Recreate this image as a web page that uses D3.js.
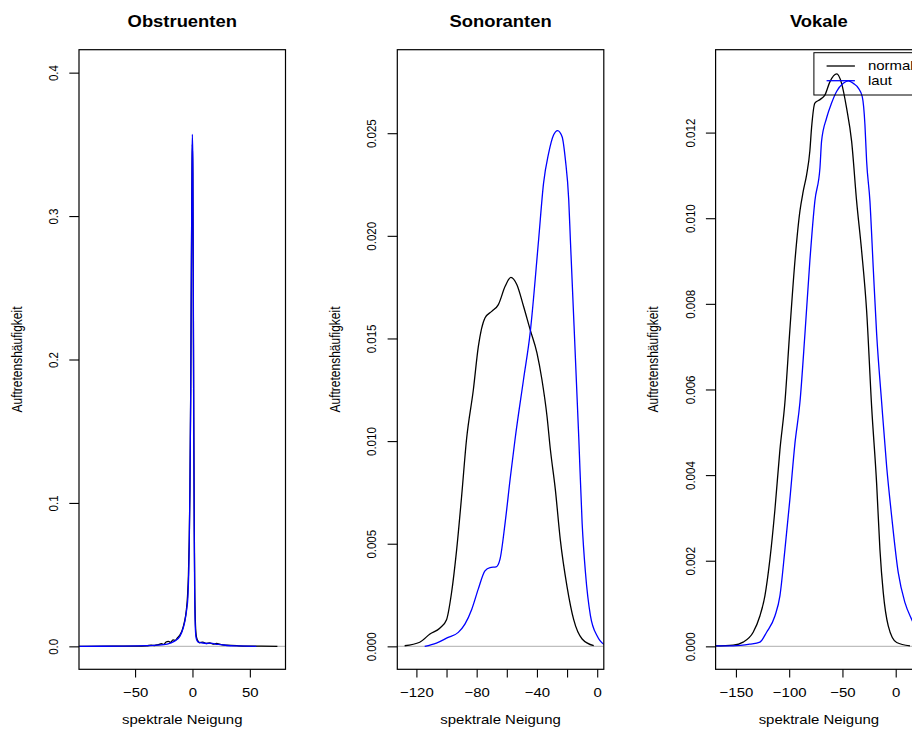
<!DOCTYPE html>
<html>
<head>
<meta charset="utf-8">
<script src="https://cdn.jsdelivr.net/npm/d3@7"></script>
<style>
  html, body { margin: 0; padding: 0; background: #fff; }
  svg { display: block; }
  text { font-family: "Liberation Sans", Arial, Helvetica, sans-serif; fill: #000; }
</style>
</head>
<body>
<svg id="chart" width="912" height="729"></svg>
<script>
// ---- data -------------------------------------------------------------
const panelTitles = ["Obstruenten", "Sonoranten", "Vokale"];
const xAxisTitle = "spektrale Neigung";
const yAxisTitle = "Auftretenshäufigkeit";
const legendLabels = ["normal", "laut"];
const seriesColors = ["#000000", "#0000ff"];

// data limits of each panel (R extends them by 4% on each side)
const xLimits = [[-92.2, 74.4], [-127.6, -0.7], [-161.9, 17.6]];
const yLimits = [[0, 0.4], [0, 0.02795], [0, 0.0134]];

const xTicks = [[-50, 0, 50], [-120, -100, -80, -60, -40, -20, 0], [-150, -100, -50, 0]];
const xTickLabels = [["\u221250", "0", "50"],
                     ["\u2212120", "", "\u221280", "", "\u221240", "", "0"],
                     ["\u2212150", "\u2212100", "\u221250", "0"]];
const yTicks = [[0, 0.1, 0.2, 0.3, 0.4],
                [0, 0.005, 0.010, 0.015, 0.020, 0.025],
                [0, 0.002, 0.004, 0.006, 0.008, 0.010, 0.012]];
const yTickLabels = [["0.0", "0.1", "0.2", "0.3", "0.4"],
                     ["0.000", "0.005", "0.010", "0.015", "0.020", "0.025"],
                     ["0.000", "0.002", "0.004", "0.006", "0.008", "0.010", "0.012"]];

// density estimates: [spektrale Neigung, Dichte]
const obstruentenNormal = [[-100,0],[-92,0],[-70,0.0001],[-50,0.0002],[-40,0.0004],[-36,0.0008],[-33,0.0006],[-30,0.0012],
  [-27,0.0018],[-25,0.0014],[-23,0.003],[-21,0.0035],[-19,0.0028],[-17,0.0045],[-15,0.0042],[-13,0.006],[-11,0.0078],
  [-9,0.011],[-7,0.017],[-5.5,0.024],[-4.3,0.035],[-3.5,0.05],[-2.8,0.075],[-2.2,0.11],[-1.5,0.18],[-0.9,0.27],
  [-0.4,0.33],[-0.1,0.35],[0.3,0.33],[0.7,0.25],[1.1,0.16],[1.6,0.08],[2,0.04],[2.5,0.018],[3.2,0.008],[4,0.005],
  [5,0.0035],[6,0.0025],[9,0.003],[12,0.002],[15,0.0024],[18,0.0015],[21,0.002],[25,0.0012],[30,0.0008],[40,0.0004],
  [50,0.0002],[60,0.0001],[74,0]];
const obstruentenLaut = [[-100,0],[-60,0.0002],[-40,0.0005],[-30,0.0008],[-22,0.0016],[-16,0.0035],[-11,0.007],
  [-8,0.013],[-6.5,0.018],[-5,0.026],[-4,0.034],[-3.3,0.05],[-2.8,0.07],[-2.2,0.11],[-1.5,0.18],[-0.9,0.27],
  [-0.4,0.335],[-0.1,0.357],[0.3,0.34],[0.7,0.26],[1.1,0.16],[1.5,0.085],[1.9,0.04],[2.4,0.015],[3,0.007],[4,0.004],
  [5,0.003],[8,0.0025],[12,0.002],[16,0.0022],[20,0.0016],[25,0.0012],[30,0.0006],[40,0.0003],[55.6,0]];

const sonorantenNormal = [[-127.8,0.00003],[-117.8,0.0002],[-111,0.0006],[-104.5,0.00088],[-100,0.0013],
  [-96.7,0.0026],[-93.3,0.0047],[-90,0.0073],[-86.7,0.0101],[-82.2,0.0125],[-78.9,0.0146],[-74.5,0.0160],
  [-70,0.01632],[-65.6,0.01665],[-61.1,0.01754],[-57.3,0.01798],[-53.3,0.01762],[-48.9,0.01657],[-44.5,0.01543],
  [-40,0.0143],[-36.7,0.0130],[-33.3,0.0112],[-31.1,0.0096],[-27.8,0.00765],[-24.5,0.0052],[-20,0.0029],
  [-15.6,0.0013],[-10,0.00036],[-2.3,0.00003]];
const sonorantenLaut = [[-114.5,0],[-106.7,0.00016],[-98.9,0.00044],[-92.2,0.00068],[-87.8,0.00108],[-83.3,0.0018],
  [-78.9,0.0028],[-74.5,0.00368],[-71.1,0.00384],[-67.1,0.00387],[-64.5,0.00425],[-61.1,0.00603],[-57.8,0.00814],
  [-54.5,0.0101],[-48.9,0.0130],[-44.5,0.01527],[-38.9,0.0198],[-35.6,0.02257],[-32.3,0.0240],[-28.9,0.02492],
  [-26.3,0.02513],[-23.3,0.02483],[-21.1,0.0237],[-18.9,0.02176],[-17.8,0.0198],[-12.2,0.0101],[-10,0.0060],
  [-7.8,0.0036],[-4.5,0.0015],[0,0.0005],[4.4,0.0001],[8,0.00002]];

const vokaleNormal = [[-172,0.00001],[-152.6,0.00003],[-143.2,0.0001],[-133.8,0.00033],[-127.5,0.00071],
  [-122.8,0.00118],[-118.1,0.00203],[-113.4,0.00319],[-108.7,0.00459],[-104,0.0057],[-99.4,0.00738],[-94.6,0.0090],
  [-89.9,0.01017],[-86.8,0.01063],[-83.6,0.01102],[-80.6,0.01157],[-79,0.01211],[-75.9,0.01269],[-71.1,0.01277],
  [-66.4,0.01288],[-61.7,0.01319],[-55.4,0.01337],[-50.8,0.01315],[-46.1,0.01257],[-41.4,0.0118],[-36.7,0.0104],
  [-32,0.00924],[-27.3,0.00784],[-22.6,0.0056],[-17.9,0.0038],[-14.8,0.00226],[-11.7,0.00126],[-7,0.00048],
  [0.9,0.00009],[13.4,0.00001]];
const vokaleLaut = [[-172,0.00001],[-152.6,0.00001],[-137,0.00005],[-127.5,0.0001],[-121.2,0.00033],[-113.4,0.00071],
  [-108.7,0.00118],[-104,0.00226],[-99.4,0.00342],[-94.6,0.00474],[-89.9,0.0057],[-85.2,0.0073],[-80.6,0.0090],
  [-75.9,0.0104],[-71.1,0.01118],[-69.6,0.0118],[-64.9,0.01234],[-60.2,0.01269],[-55.5,0.01296],[-49.2,0.01315],
  [-44.5,0.01321],[-39.8,0.01315],[-35.1,0.01304],[-31.4,0.01284],[-28.9,0.01219],[-27.3,0.01133],[-24.2,0.0104],
  [-21.1,0.00885],[-17.9,0.0073],[-13.2,0.0057],[-8.5,0.0042],[-3.8,0.00304],[2.4,0.00172],[8.7,0.00102],
  [15,0.00063],[22,0.0003],[30,0.0001]];

const panelSeries = [[obstruentenNormal, obstruentenLaut],
                     [sonorantenNormal, sonorantenLaut],
                     [vokaleNormal, vokaleLaut]];

// ---- layout -----------------------------------------------------------
const panelStep = 318.3;
const plotLeft0 = 79, plotWidth = 206.5, plotTop = 49.7, plotBottom = 669.3;
const textStretch = 1.15;          // glyphs are drawn slightly wide
const fontFamily = '"Liberation Sans", Arial, Helvetica, sans-serif';

const svg = d3.select("#chart");
svg.append("rect").attr("width", 912).attr("height", 729).attr("fill", "#fff");

function extend(lim) {
  const pad = (lim[1] - lim[0]) * 0.04;
  return [lim[0] - pad, lim[1] + pad];
}

function label(g, x, y, str, size, opts = {}) {
  return g.append("text")
    .attr("transform", `translate(${x},${y}) scale(${textStretch},1)` + (opts.rotate ? " rotate(-90)" : ""))
    .attr("text-anchor", opts.anchor || "middle")
    .style("font-size", size + "px")
    .style("font-weight", opts.bold ? "bold" : "normal")
    .text(str);
}

panelTitles.forEach((title, i) => {
  const left = plotLeft0 + i * panelStep;
  const right = left + plotWidth;
  const x = d3.scaleLinear().domain(extend(xLimits[i])).range([left, right]);
  const y = d3.scaleLinear().domain(extend(yLimits[i])).range([plotBottom, plotTop]);
  const g = svg.append("g");

  const clipId = "clip" + i;
  svg.append("clipPath").attr("id", clipId).append("rect")
    .attr("x", left).attr("y", plotTop).attr("width", plotWidth).attr("height", plotBottom - plotTop);

  // zero reference line
  g.append("line")
    .attr("x1", left).attr("x2", right).attr("y1", y(0)).attr("y2", y(0))
    .attr("stroke", "#bebebe").attr("stroke-width", 1.1)
    .attr("clip-path", `url(#${clipId})`);

  // density curves
  const line = d3.line().x(d => x(d[0])).y(d => y(d[1])).curve(d3.curveMonotoneX);
  panelSeries[i].forEach((series, k) => {
    g.append("path").datum(series)
      .attr("d", line)
      .attr("fill", "none")
      .attr("stroke", seriesColors[k])
      .attr("stroke-width", 1.3)
      .attr("stroke-linejoin", "round")
      .attr("clip-path", `url(#${clipId})`);
  });

  // x axis
  const xa = g.append("g").attr("transform", `translate(0,${plotBottom})`)
    .call(d3.axisBottom(x).tickValues(xTicks[i]).tickFormat((d, j) => xTickLabels[i][j]).tickSize(8.3).tickSizeOuter(0));
  xa.select(".domain").remove();
  xa.selectAll(".tick line").attr("stroke", "#000").attr("stroke-width", 1.1);
  xa.selectAll(".tick text")
    .attr("y", 27.4).attr("dy", null)
    .attr("transform", `scale(${textStretch},1)`)
    .style("font-size", "13px").style("font-family", fontFamily).attr("fill", "#000");

  // y axis
  const ya = g.append("g").attr("transform", `translate(${left},0)`)
    .call(d3.axisLeft(y).tickValues(yTicks[i]).tickFormat((d, j) => yTickLabels[i][j]).tickSize(9.7).tickSizeOuter(0));
  ya.select(".domain").remove();
  ya.selectAll(".tick line").attr("stroke", "#000").attr("stroke-width", 1.1);
  ya.selectAll(".tick text")
    .attr("x", null).attr("dy", null).attr("y", null)
    .attr("text-anchor", "middle")
    .attr("transform", `translate(-21,0) scale(${textStretch},1) rotate(-90)`)
    .style("font-size", "11.5px").style("font-family", fontFamily).attr("fill", "#000");

  // plot frame
  g.append("rect")
    .attr("x", left).attr("y", plotTop).attr("width", plotWidth).attr("height", plotBottom - plotTop)
    .attr("fill", "none").attr("stroke", "#000").attr("stroke-width", 1.2);

  // titles
  label(g, (left + right) / 2, 26.5, title, 16, { bold: true });
  label(g, (left + right) / 2, 724, xAxisTitle, 13);
  label(g, left - 57.5, (plotTop + plotBottom) / 2, yAxisTitle, 12, { rotate: true });

  // legend in the last panel
  if (i === panelTitles.length - 1) {
    const lg = g.append("g");
    const bx = left + 98.3, by = plotTop + 3;
    lg.append("rect").attr("x", bx).attr("y", by).attr("width", 130).attr("height", 42.3)
      .attr("fill", "none").attr("stroke", "#000").attr("stroke-width", 1);
    legendLabels.forEach((name, k) => {
      const ly = by + 13.3 + k * 14.7;
      lg.append("line").attr("x1", bx + 12.7).attr("x2", bx + 41).attr("y1", ly).attr("y2", ly)
        .attr("stroke", seriesColors[k]).attr("stroke-width", 1.3);
      label(lg, bx + 54, ly + 4.2, name, 13, { anchor: "start" });
    });
  }
});
</script>
</body>
</html>
